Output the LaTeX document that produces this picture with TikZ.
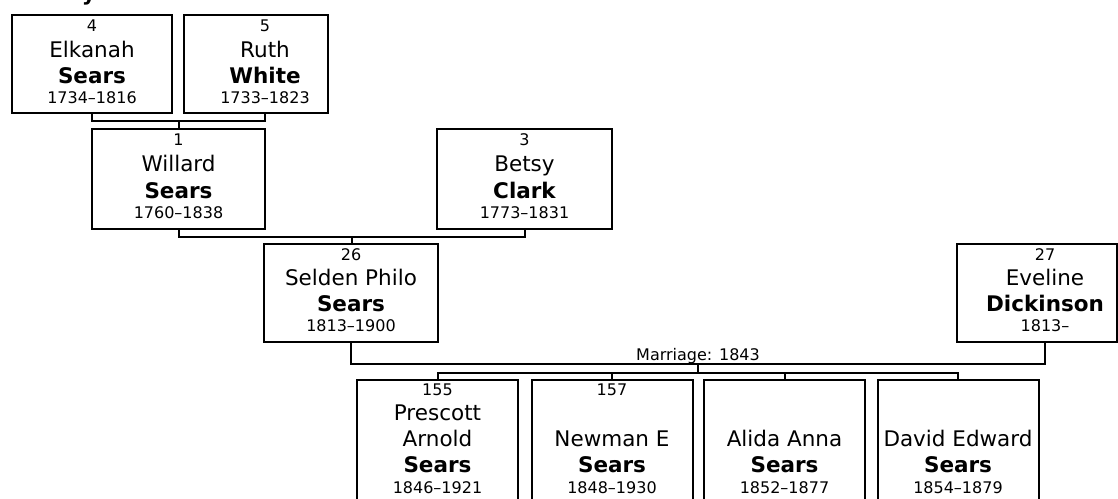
\documentclass[tikz,border=0pt]{standalone}
\usepackage{fontspec}
\setmainfont{DejaVu Sans}
\usetikzlibrary{calc}
\newcommand\smallf{\fontsize{16}{19}\selectfont}
\newcommand\namef{\fontsize{21.5}{25}\selectfont}
% person box: name, left, top, right, height, text centre x
\newcommand\pbox[6]{%
  \node[pbox,minimum width={(#4)-(#2)},minimum height=#5pt] (#1) at ({((#2)+(#4))/2},#3) {};
  \coordinate (#1c) at (#6,#3);}
% text line: style, box, offset from top to baseline, text
\newcommand\tline[4]{\node[#1] (#2-t#3) at ([yshift=-#3pt]#2c) {#4};}
\begin{document}
\begin{tikzpicture}[x=1pt,y=-1pt,
  pbox/.style={draw,line width=2pt,inner sep=0pt,anchor=north,fill=white},
  conn/.style={draw,line width=2pt},
  num/.style={anchor=base,inner sep=0pt,font=\smallf},
  given/.style={anchor=base,inner sep=0pt,font=\namef},
  sur/.style={anchor=base,inner sep=0pt,font=\namef\bfseries},
  dates/.style={anchor=base,inner sep=0pt,font=\smallf}]
\useasboundingbox (0,0) rectangle (1118,498);
\node[anchor=base,inner sep=0pt,font=\namef\bfseries] (title) at (89,0.5) {y};

% generation 1
\pbox{eli}{12}{14}{172}{98}{92}
\pbox{ruth}{184}{14}{328}{98}{265}
% generation 2
\pbox{will}{92}{128}{265}{100}{178.5}
\pbox{bets}{437}{128}{612}{100}{524.5}
% generation 3
\pbox{seld}{264}{243}{438}{98}{351}
\pbox{evel}{957}{243}{1117}{98}{1045}
% children
\pbox{pres}{357}{379}{518}{135}{437.5}
\pbox{newm}{531.5}{379}{692.5}{135}{612}
\pbox{alid}{704}{379}{865}{135}{784.5}
\pbox{davi}{877.5}{379}{1038.5}{135}{958}

% texts
\tline{num}{eli}{17}{4}
\tline{given}{eli}{43}{Elkanah}
\tline{sur}{eli}{69}{Sears}
\tline{dates}{eli}{89}{1734–1816}

\tline{num}{ruth}{17}{5}
\tline{given}{ruth}{43}{Ruth}
\tline{sur}{ruth}{69}{White}
\tline{dates}{ruth}{89}{1733–1823}

\tline{num}{will}{17}{1}
\tline{given}{will}{43.5}{Willard}
\tline{sur}{will}{70}{Sears}
\tline{dates}{will}{90}{1760–1838}

\tline{num}{bets}{17}{3}
\tline{given}{bets}{43.5}{Betsy}
\tline{sur}{bets}{70}{Clark}
\tline{dates}{bets}{90}{1773–1831}

\tline{num}{seld}{17}{26}
\tline{given}{seld}{42.5}{Selden Philo}
\tline{sur}{seld}{68}{Sears}
\tline{dates}{seld}{88}{1813–1900}

\tline{num}{evel}{17}{27}
\tline{given}{evel}{42.5}{Eveline}
\tline{sur}{evel}{68}{Dickinson}
\tline{dates}{evel}{88}{1813–}

\tline{num}{pres}{16.5}{155}
\tline{given}{pres}{41.5}{Prescott}
\tline{given}{pres}{67.5}{Arnold}
\tline{sur}{pres}{93.5}{Sears}
\tline{dates}{pres}{114}{1846–1921}

\tline{num}{newm}{16.5}{157}
\tline{given}{newm}{67.5}{Newman E}
\tline{sur}{newm}{93.5}{Sears}
\tline{dates}{newm}{114}{1848–1930}

\tline{given}{alid}{67.5}{Alida Anna}
\tline{sur}{alid}{93.5}{Sears}
\tline{dates}{alid}{114}{1852–1877}

\tline{given}{davi}{67.5}{David Edward}
\tline{sur}{davi}{93.5}{Sears}
\tline{dates}{davi}{114}{1854–1879}

% connector ends under / over each box (at the text centre)
\foreach \b in {eli,ruth,will,bets,seld,evel}{
  \coordinate (\b s) at (\b c |- \b.south);}
\foreach \b in {will,seld,pres,newm,alid,davi}{
  \coordinate (\b n) at (\b c |- \b.north);}

% connectors
\coordinate (c1) at ($(elis)+(0,7)$);
\coordinate (m1) at ($(elis)!0.5!(ruths)+(0,7)$);
\path[conn] (elis) -- (c1) -| (ruths);
\path[conn] (m1) -- (m1 |- willn);

\coordinate (c2) at ($(wills)+(0,7)$);
\coordinate (m2) at ($(wills)!0.5!(betss)+(0,7)$);
\path[conn] (wills) -- (c2) -| (betss);
\path[conn] (m2) -- (m2 |- seldn);

\coordinate (c3) at ($(selds)+(0,21)$);
\coordinate (m3) at ($(selds)!0.5!(evels)+(0,21)$);
\coordinate (b3) at ($(m3)+(0,9)$);
\path[conn] (selds) -- (c3) -| (evels);
\path[conn] (m3) -- (b3);
\coordinate (bl) at (b3 -| presn);
\coordinate (br) at (b3 -| davin);
\path[conn] (presn) -- (bl) -- (br) -- (davin);
\path[conn] (newmn) -- (newmn |- b3);
\path[conn] (alidn) -- (alidn |- b3);
\node[anchor=base,inner sep=0pt,font=\smallf] (marr) at ($(m3)+(0,-4)$) {Marriage: 1843};
\end{tikzpicture}
\end{document}
